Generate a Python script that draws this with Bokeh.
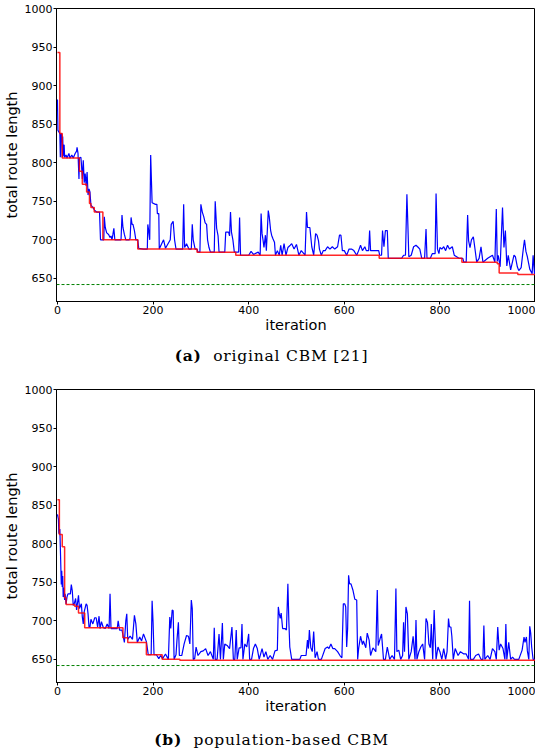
from bokeh.plotting import figure
from bokeh.models import Range1d, FixedTicker, Span, Div
from bokeh.layouts import column
from bokeh.embed import file_html
from bokeh.resources import INLINE

# ---------------- data: (a) original CBM ----------------
a_cur_iter = [0, 1, 3, 5, 6, 7, 8, 9, 10, 11, 12, 13, 14, 15, 18, 20, 24, 26, 30, 33, 37, 40, 41, 43, 45, 46, 49, 50,
              52, 54, 56, 58, 60, 62, 64, 66, 68, 70, 74, 78, 82, 86, 88, 90, 97, 98, 100, 103, 107, 110, 112, 114,
              116, 118, 120, 133, 135, 137, 140, 143, 150, 152, 154, 156, 158, 161, 164, 168, 170, 180, 188, 189,
              191, 193, 195, 198, 205, 208, 209, 212, 213, 218, 222, 226, 236, 238, 242, 245, 248, 262, 264, 266,
              270, 275, 280, 282, 284, 288, 292, 294, 298, 300, 303, 306, 309, 312, 314, 317, 320, 328, 330, 333,
              336, 338, 350, 352, 358, 360, 362, 364, 367, 370, 379, 381, 383, 400, 405, 410, 420, 424, 426, 428,
              430, 432, 435, 437, 441, 443, 446, 448, 451, 454, 456, 460, 464, 467, 470, 474, 478, 482, 487, 490,
              495, 500, 505, 510, 518, 521, 523, 528, 532, 536, 540, 543, 546, 548, 552, 556, 560, 565, 570, 575,
              580, 586, 590, 593, 596, 600, 605, 610, 615, 620, 626, 630, 634, 638, 643, 646, 651, 653, 655, 660,
              672, 674, 678, 680, 683, 686, 690, 692, 700, 720, 724, 728, 731, 733, 735, 740, 745, 750, 755, 758,
              762, 768, 771, 773, 780, 784, 790, 792, 795, 798, 800, 804, 808, 812, 816, 820, 826, 830, 840, 848,
              850, 855, 858, 860, 863, 866, 870, 873, 877, 882, 886, 890, 900, 910, 915, 918, 920, 922, 926, 931,
              934, 937, 940, 943, 948, 955, 958, 962, 965, 970, 975, 977, 980, 983, 988, 993, 995, 998, 1000]
a_cur_len = [882, 842, 840, 838, 807, 835, 838, 835, 807, 834, 808, 823, 823, 807, 810, 806, 812, 806, 810, 806, 812,
             815, 820, 812, 779, 806, 807, 800, 779, 803, 774, 786, 770, 788, 758, 766, 762, 745, 742, 738, 736, 736,
             736, 700, 700, 730, 716, 709, 707, 703, 705, 700, 707, 715, 700, 700, 732, 716, 707, 700, 700, 702, 729,
             720, 720, 712, 700, 700, 689, 688, 688, 720, 711, 700, 810, 748, 746, 746, 734, 734, 688, 695, 700, 689,
             700, 720, 724, 700, 688, 688, 746, 690, 695, 688, 688, 720, 700, 688, 688, 684, 684, 746, 736, 730, 722,
             720, 700, 690, 684, 684, 750, 715, 705, 684, 684, 710, 710, 705, 736, 710, 700, 684, 684, 729, 680, 680,
             685, 681, 684, 680, 734, 708, 700, 690, 706, 686, 738, 730, 712, 706, 701, 697, 680, 686, 680, 693, 680,
             695, 680, 690, 693, 695, 688, 694, 680, 686, 680, 736, 716, 716, 691, 680, 708, 706, 699, 688, 680, 686,
             686, 691, 688, 691, 688, 691, 706, 706, 686, 686, 680, 688, 688, 686, 680, 686, 693, 686, 691, 686, 686,
             712, 686, 686, 686, 680, 680, 712, 691, 712, 712, 676, 676, 676, 680, 680, 759, 720, 678, 680, 691, 693,
             690, 688, 676, 676, 714, 676, 676, 682, 682, 760, 688, 682, 690, 688, 691, 686, 693, 688, 691, 680, 676,
             676, 671, 671, 732, 699, 690, 700, 704, 690, 671, 676, 691, 671, 676, 680, 671, 740, 672, 680, 665, 742,
             690, 712, 666, 680, 661, 680, 678, 665, 660, 664, 691, 700, 685, 678, 662, 656, 680, 655, 655]
a_best_iter = [0, 5, 10, 46, 52, 61, 67, 70, 77, 95, 168, 292, 373, 673, 846, 920, 924, 963, 1000]
a_best_len = [943, 838, 806, 789, 772, 762, 747, 742, 736, 700, 688, 684, 680, 676, 671, 669, 657, 655, 655]

# ---------------- data: (b) population-based CBM ----------------
b_cur_iter = [0, 2, 3, 5, 6, 8, 9, 10, 11, 12, 13, 15, 16, 18, 20, 22, 27, 29, 31, 33, 35, 38, 40, 44, 46, 50, 52, 54,
              56, 60, 62, 64, 66, 68, 70, 74, 78, 81, 84, 87, 89, 92, 96, 100, 104, 108, 110, 112, 125, 127, 130, 135,
              140, 143, 145, 147, 152, 157, 161, 164, 167, 172, 176, 180, 186, 190, 196, 198, 200, 202, 207, 212, 216,
              220, 226, 232, 235, 237, 240, 242, 244, 248, 250, 253, 255, 260, 265, 270, 274, 277, 280, 282, 284, 287,
              290, 294, 300, 305, 310, 315, 320, 326, 328, 330, 334, 338, 341, 345, 347, 350, 355, 360, 365, 368, 371,
              374, 376, 380, 384, 386, 388, 392, 396, 400, 402, 406, 410, 414, 418, 422, 428, 432, 436, 440, 445, 450,
              455, 460, 462, 464, 466, 468, 471, 476, 479, 482, 484, 486, 490, 500, 507, 510, 520, 523, 525, 527, 530,
              533, 536, 539, 543, 546, 552, 560, 565, 568, 572, 576, 580, 586, 591, 595, 598, 601, 603, 605, 607, 609,
              611, 614, 618, 622, 626, 628, 630, 634, 638, 640, 645, 648, 652, 655, 660, 666, 669, 671, 675, 678, 682,
              686, 690, 695, 700, 705, 708, 710, 714, 718, 722, 724, 726, 729, 732, 735, 740, 744, 748, 750, 752, 756,
              760, 764, 768, 771, 774, 777, 780, 782, 785, 788, 790, 792, 796, 800, 804, 808, 812, 815, 818, 820, 823,
              825, 828, 832, 838, 843, 850, 855, 860, 862, 864, 870, 875, 881, 886, 890, 892, 894, 900, 905, 910, 915,
              918, 921, 924, 927, 932, 936, 938, 940, 944, 948, 952, 956, 965, 972, 976, 978, 981, 983, 986, 988, 990,
              992, 995, 1000]
b_cur_len = [838, 832, 813, 819, 796, 747, 765, 744, 758, 731, 743, 727, 735, 722, 731, 735, 735, 747, 739, 720, 722,
             729, 714, 733, 716, 722, 705, 696, 712, 722, 720, 709, 692, 692, 702, 696, 704, 704, 692, 706, 690, 699,
             691, 690, 696, 690, 735, 690, 690, 700, 688, 688, 672, 700, 709, 676, 680, 676, 707, 696, 672, 679, 674,
             683, 673, 656, 656, 726, 698, 656, 656, 651, 655, 651, 657, 650, 705, 690, 714, 713, 650, 656, 675, 698,
             655, 655, 670, 681, 680, 670, 727, 716, 650, 651, 666, 655, 660, 661, 664, 655, 660, 650, 691, 650, 650,
             683, 650, 697, 650, 670, 668, 664, 692, 650, 650, 688, 650, 665, 665, 696, 650, 670, 666, 683, 650, 650,
             664, 670, 664, 650, 664, 653, 660, 650, 655, 650, 661, 662, 718, 709, 703, 710, 690, 690, 688, 748, 700,
             666, 650, 650, 650, 655, 655, 675, 664, 688, 665, 660, 686, 652, 660, 650, 650, 664, 666, 664, 670, 664,
             664, 660, 655, 652, 722, 722, 718, 666, 690, 759, 748, 748, 740, 728, 727, 650, 664, 680, 669, 674, 665,
             684, 675, 655, 665, 660, 740, 668, 677, 683, 650, 650, 666, 650, 655, 650, 742, 660, 662, 650, 655, 698,
             660, 718, 709, 650, 660, 680, 650, 701, 650, 660, 666, 670, 650, 703, 698, 670, 665, 696, 650, 714, 680,
             650, 666, 660, 650, 664, 650, 660, 703, 692, 692, 680, 650, 664, 655, 660, 657, 657, 650, 726, 650, 650,
             655, 657, 650, 650, 694, 650, 655, 650, 664, 660, 650, 692, 662, 670, 664, 650, 696, 650, 672, 650, 653,
             650, 650, 662, 679, 672, 679, 661, 650, 693, 684, 666, 650, 650]
b_best_iter = [0, 4, 10, 15, 18, 36, 44, 57, 137, 147, 186, 219, 256, 1000]
b_best_len = [857, 812, 796, 730, 721, 719, 710, 691, 678, 672, 656, 650, 649, 649]

optimum = 642  # known optimal route length (green dashed)

x_ticks = [0, 200, 400, 600, 800, 1000]
y_ticks = [650, 700, 750, 800, 850, 900, 950, 1000]
x_label = "iteration"
y_label = "total route length"
caption_a = ("(a)", "original CBM [21]")
caption_b = ("(b)", "population-based CBM")


def make_panel(cur_it, cur_len, best_it, best_len, height):
    p = figure(width=535, height=height, x_range=Range1d(-2, 1000), y_range=Range1d(620, 1000),
               output_backend="svg", toolbar_location=None,
               min_border_left=49, min_border_right=0, min_border_top=8, min_border_bottom=37)
    p.line(cur_it, cur_len, line_color="#0000ff", line_width=1.2)
    p.step(best_it, best_len, mode="after", line_color="#ff0000", line_width=1.5, line_alpha=0.85)
    p.add_layout(Span(location=optimum, dimension="width", line_color="#008000",
                      line_width=1, line_dash="3 2"))
    p.grid.visible = False
    p.outline_line_color = "black"
    p.outline_line_width = 1
    p.outline_line_alpha = 1
    for ax in (p.xaxis[0], p.yaxis[0]):
        ax.axis_line_color = "black"
        ax.major_tick_line_color = "black"
        ax.minor_tick_line_color = None
        ax.major_tick_in = 0
        ax.major_tick_out = 3
        ax.major_label_standoff = 1
        ax.axis_label_standoff = 0
        ax.major_label_text_font = "DejaVu Sans"
        ax.major_label_text_font_size = "11px"
        ax.major_label_text_color = "black"
        ax.axis_label_text_font = "DejaVu Sans"
        ax.axis_label_text_font_size = "14.5px"
        ax.axis_label_text_font_style = "normal"
        ax.axis_label_text_color = "black"
    p.yaxis.axis_label_standoff = 2
    p.xaxis.ticker = FixedTicker(ticks=x_ticks)
    p.yaxis.ticker = FixedTicker(ticks=y_ticks)
    p.xaxis.axis_label = x_label
    p.yaxis.axis_label = y_label
    return p


def caption(parts, height, pad):
    html = ('<div style="width:543px;text-align:center;padding-top:%dpx;'
            'font-family:\'DejaVu Serif\';font-size:15.5px;letter-spacing:0.8px;color:#000;line-height:18px">'
            '<b>%s</b>&nbsp;&nbsp;%s</div>' % (pad, parts[0], parts[1]))
    return Div(text=html, width=535, height=height, margin=(0, 0, 0, 0))


p1 = make_panel(a_cur_iter, a_cur_len, a_best_iter, a_best_len, 338)
p2 = make_panel(b_cur_iter, b_cur_len, b_best_iter, b_best_len, 338)
layout = column(p1, caption(caption_a, 43, 9), p2, caption(caption_b, 30, 12), spacing=0)

open("out.html", "w").write(file_html(layout, INLINE))
